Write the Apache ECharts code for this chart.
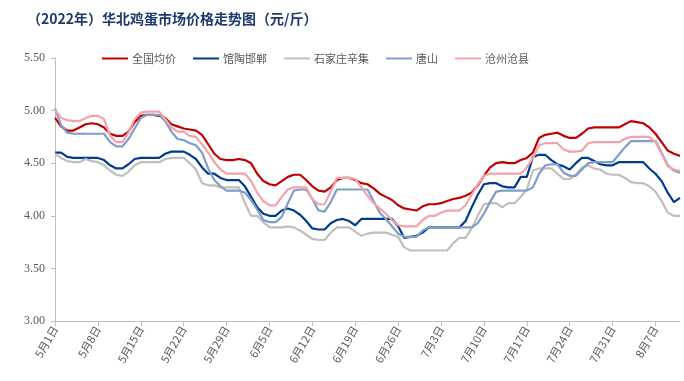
<!DOCTYPE html>
<html>
<head>
<meta charset="utf-8">
<script src="https://cdn.jsdelivr.net/npm/echarts@6/dist/echarts.min.js"></script>
<style>
html,body{margin:0;padding:0;background:#fff;}
#c{width:684px;height:381px;}
</style>
</head>
<body>
<div id="c"></div>
<script>
// Dates: 2022-05-01 .. 2022-08-11, daily
var startMonth = 5, startDay = 1, dayCount = 103;
var monthLengths = {5:31, 6:30, 7:31, 8:31};
var categories = [];
(function(){
  var m = startMonth, d = startDay;
  for (var i = 0; i < dayCount; i++) {
    categories.push(m + '月' + d + '日');
    d++;
    if (d > monthLengths[m]) { d = 1; m++; }
  }
})();

var seriesNames = ['全国均价', '馆陶邯郸', '石家庄辛集', '唐山', '沧州沧县'];

var national = [4.93,4.85,4.81,4.81,4.84,4.87,4.88,4.87,4.84,4.78,
4.76,4.76,4.80,4.89,4.95,4.96,4.96,4.95,4.93,4.87,
4.85,4.83,4.82,4.81,4.77,4.68,4.59,4.54,4.53,4.53,
4.54,4.53,4.50,4.40,4.33,4.30,4.29,4.33,4.37,4.39,
4.39,4.34,4.28,4.24,4.23,4.27,4.34,4.36,4.36,4.34,
4.31,4.30,4.26,4.21,4.18,4.15,4.10,4.07,4.06,4.05,
4.09,4.11,4.11,4.12,4.14,4.16,4.17,4.19,4.22,4.29,
4.38,4.46,4.50,4.51,4.50,4.50,4.53,4.55,4.60,4.74,
4.77,4.78,4.79,4.76,4.74,4.74,4.78,4.83,4.84,4.84,
4.84,4.84,4.84,4.87,4.90,4.89,4.88,4.84,4.78,4.70,
4.62,4.59,4.57];

var guantao = [4.60,4.60,4.56,4.55,4.55,4.55,4.55,4.55,4.53,4.48,
4.45,4.45,4.49,4.54,4.55,4.55,4.55,4.55,4.59,4.61,
4.61,4.61,4.58,4.54,4.46,4.40,4.40,4.36,4.34,4.34,
4.34,4.28,4.18,4.08,4.02,4.00,4.00,4.05,4.07,4.05,
4.01,3.95,3.88,3.87,3.87,3.93,3.96,3.97,3.95,3.91,
3.97,3.97,3.97,3.97,3.97,3.97,3.90,3.79,3.80,3.81,
3.84,3.89,3.89,3.89,3.89,3.89,3.89,3.95,4.08,4.20,
4.30,4.31,4.31,4.28,4.27,4.27,4.37,4.37,4.56,4.58,
4.58,4.53,4.49,4.47,4.44,4.50,4.55,4.55,4.52,4.49,
4.48,4.48,4.51,4.51,4.51,4.51,4.51,4.45,4.40,4.33,
4.22,4.13,4.17];

var xinji = [4.59,4.55,4.52,4.51,4.51,4.54,4.52,4.51,4.48,4.43,
4.39,4.38,4.42,4.48,4.51,4.51,4.51,4.51,4.54,4.55,
4.55,4.55,4.50,4.44,4.31,4.29,4.29,4.27,4.27,4.27,
4.27,4.12,4.00,4.00,3.94,3.89,3.89,3.89,3.90,3.89,
3.86,3.82,3.78,3.77,3.77,3.84,3.89,3.89,3.89,3.85,
3.81,3.83,3.84,3.84,3.84,3.82,3.80,3.70,3.67,3.67,
3.67,3.67,3.67,3.67,3.67,3.74,3.79,3.79,3.88,4.00,
4.11,4.12,4.12,4.08,4.12,4.12,4.18,4.25,4.43,4.45,
4.45,4.45,4.40,4.35,4.35,4.39,4.46,4.48,4.45,4.44,
4.40,4.39,4.39,4.36,4.32,4.31,4.31,4.28,4.23,4.14,
4.03,4.00,4.00];

var tangshan = [5.02,4.86,4.79,4.78,4.78,4.78,4.78,4.78,4.78,4.70,
4.66,4.66,4.73,4.83,4.93,4.96,4.96,4.96,4.90,4.80,
4.73,4.72,4.69,4.67,4.60,4.45,4.34,4.28,4.24,4.24,
4.24,4.22,4.15,4.06,3.96,3.94,3.94,3.99,4.12,4.24,
4.25,4.25,4.16,4.05,4.04,4.13,4.25,4.25,4.25,4.25,
4.25,4.25,4.14,4.03,3.97,3.90,3.83,3.80,3.80,3.80,
3.86,3.89,3.89,3.89,3.89,3.89,3.89,3.89,3.89,3.93,
4.02,4.13,4.23,4.24,4.24,4.24,4.24,4.24,4.27,4.40,
4.48,4.49,4.49,4.41,4.38,4.38,4.44,4.50,4.51,4.51,
4.51,4.51,4.58,4.65,4.71,4.71,4.71,4.71,4.71,4.60,
4.48,4.43,4.41];

var cangxian = [5.01,4.93,4.91,4.90,4.90,4.93,4.95,4.95,4.92,4.76,
4.70,4.70,4.79,4.92,4.98,4.99,4.99,4.99,4.92,4.84,
4.80,4.80,4.76,4.75,4.68,4.60,4.51,4.44,4.40,4.40,
4.40,4.40,4.33,4.22,4.14,4.10,4.10,4.18,4.25,4.27,
4.27,4.27,4.16,4.11,4.11,4.23,4.36,4.36,4.36,4.35,
4.27,4.19,4.12,4.07,4.02,3.96,3.91,3.90,3.90,3.90,
3.96,4.00,4.00,4.03,4.05,4.05,4.05,4.10,4.20,4.30,
4.38,4.40,4.40,4.40,4.40,4.40,4.40,4.46,4.55,4.67,
4.69,4.69,4.69,4.63,4.61,4.61,4.62,4.69,4.70,4.70,
4.70,4.70,4.70,4.73,4.75,4.75,4.75,4.75,4.70,4.59,
4.47,4.44,4.43];

var yMin = 3.0, yMax = 5.5, yStep = 0.5;
var colors = ['#c00000', '#003b8e', '#bfbfbf', '#7f9dc9', '#f4a2ab'];
var seriesData = [national, guantao, xinji, tangshan, cangxian];

var chart = echarts.init(document.getElementById('c'), null, {renderer: 'canvas'});
var series = seriesNames.map(function(name, i){
  return {
    name: name,
    type: 'line',
    data: seriesData[i],
    symbol: 'none',
    smooth: false,
    lineStyle: {width: 2.2, color: colors[i]},
    itemStyle: {color: colors[i]},
    z: 2 + i
  };
});

chart.setOption({
  animation: false,
  backgroundColor: '#ffffff',
  color: colors,
  title: {
    text: '（2022年）华北鸡蛋市场价格走势图（元/斤）',
    left: 22, top: 7,
    textStyle: {fontFamily: 'Noto Sans CJK SC', fontSize: 14, fontWeight: 'bold', color: '#1f3a6e'}
  },
  legend: {
    top: 48, left: 97,
    itemWidth: 26, itemHeight: 2, itemGap: 17,
    icon: 'rect',
    textStyle: {fontFamily: 'Noto Sans CJK SC', fontSize: 11, color: '#595959', padding: [0,0,0,-1]},
    data: seriesNames
  },
  grid: {left: 55, right: 4, top: 58, bottom: 60, containLabel: false},
  xAxis: {
    type: 'category',
    data: categories,
    boundaryGap: false,
    axisLine: {lineStyle: {color: '#bfbfbf', width: 1}},
    axisTick: {show: true, interval: 6, length: 5, lineStyle: {color: '#bfbfbf'}},
    axisLabel: {interval: 6, rotate: 60, fontSize: 11, color: '#595959', fontFamily: 'Noto Sans CJK SC', margin: 6},
    splitLine: {show: false}
  },
  yAxis: {
    type: 'value',
    min: yMin, max: yMax, interval: yStep,
    axisLine: {show: true, lineStyle: {color: '#bfbfbf', width: 1}},
    axisTick: {show: true, length: 4, lineStyle: {color: '#bfbfbf'}},
    axisLabel: {formatter: function(v){return v.toFixed(2);}, fontSize: 12, color: '#595959', fontFamily: 'Liberation Serif', margin: 10},
    splitLine: {show: false}
  },
  series: series
});
</script>
</body>
</html>
